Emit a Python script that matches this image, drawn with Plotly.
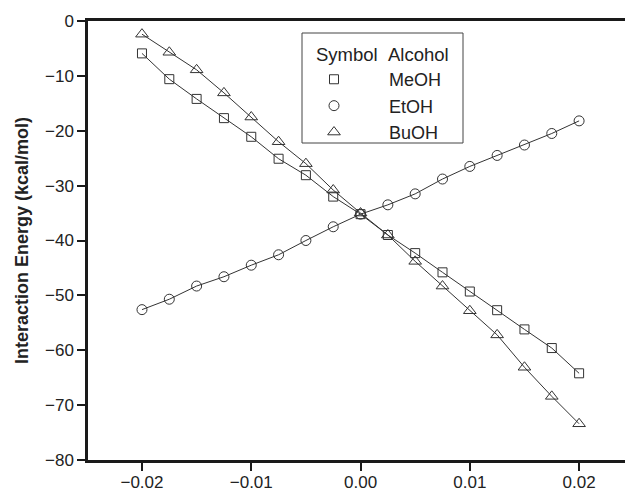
import plotly.graph_objects as go

x_vals = [-0.02, -0.0175, -0.015, -0.0125, -0.01, -0.0075, -0.005, -0.0025, 0.0,
          0.0025, 0.005, 0.0075, 0.01, 0.0125, 0.015, 0.0175, 0.02]
meoh = [-5.9, -10.6, -14.2, -17.7, -21.1, -25.1, -28.1, -32.0, -35.2,
        -39.0, -42.3, -45.8, -49.3, -52.7, -56.2, -59.6, -64.2]
etoh = [-52.6, -50.7, -48.3, -46.6, -44.5, -42.6, -40.0, -37.5, -35.2,
        -33.5, -31.5, -28.8, -26.5, -24.5, -22.6, -20.5, -18.2]
buoh = [-2.4, -5.7, -8.9, -13.1, -17.5, -22.0, -26.0, -30.8, -35.0,
        -39.0, -43.8, -48.3, -52.8, -57.2, -63.1, -68.4, -73.4]

series = [("MeOH", meoh, "square-open", 9),
          ("EtOH", etoh, "circle-open", 10),
          ("BuOH", buoh, "triangle-up-open", 11)]

x_ticks = [-0.02, -0.01, 0.0, 0.01, 0.02]
x_ticktext = ["\u22120.02", "\u22120.01", "0.00", "0.01", "0.02"]
y_ticks = [0, -10, -20, -30, -40, -50, -60, -70, -80]
y_ticktext = ["0" if v == 0 else "\u2212" + str(abs(v)) for v in y_ticks]

fig = go.Figure()
for name, ys, sym, sz in series:
    fig.add_trace(go.Scatter(x=x_vals, y=ys, mode="lines", showlegend=False,
                             line=dict(color="#333333", width=1), hoverinfo="skip"))
for name, ys, sym, sz in series:
    fig.add_trace(go.Scatter(x=x_vals, y=ys, mode="markers",
                             name="\u00a0" * 7 + name,
                             marker=dict(symbol=sym, size=sz, color="#333333",
                                         line=dict(color="#333333", width=1))))

# plot area in pixels: left 88, top 21, width 537, height 439
def px_x(p):
    return (p - 88) / 537

def px_y(p):
    return 1 - (p - 21) / 439

font_family = "Liberation Sans, Arial, sans-serif"
fig.update_layout(
    width=625, height=502,
    margin=dict(l=88, r=0, t=21, b=42),
    paper_bgcolor="white", plot_bgcolor="white",
    font=dict(family=font_family, color="#222222", size=17),
    showlegend=True,
    legend=dict(
        x=px_x(314), y=px_y(37), xanchor="left", yanchor="top",
        borderwidth=0, bgcolor="rgba(0,0,0,0)",
        font=dict(size=18, color="#222222", family=font_family),
        title=dict(text="Symbol\u00a0\u00a0Alcohol", font=dict(size=18.5, color="#222222")),
        tracegroupgap=0,
    ),
    shapes=[dict(type="rect", xref="paper", yref="paper",
                 x0=px_x(302), x1=px_x(463), y0=px_y(143), y1=px_y(33),
                 line=dict(color="#444444", width=1), fillcolor="rgba(0,0,0,0)",
                 layer="above")],
    xaxis=dict(
        range=[-0.02494, 0.0242], showgrid=False, zeroline=False,
        showline=True, linecolor="#1a1a1a", linewidth=2.5, mirror=True,
        ticks="outside", ticklen=8, tickwidth=2, tickcolor="#1a1a1a",
        tickvals=x_ticks, ticktext=x_ticktext, ticklabelstandoff=-3,
        tickfont=dict(size=17, color="#222222"),
    ),
    yaxis=dict(
        range=[-80, 0], showgrid=False, zeroline=False,
        showline=True, linecolor="#1a1a1a", linewidth=2.5,
        ticks="outside", ticklen=8, tickwidth=2, tickcolor="#1a1a1a",
        tickvals=y_ticks, ticktext=y_ticktext,
        tickfont=dict(size=17, color="#222222"),
        title=dict(text="<b>Interaction Energy (kcal/mol)</b>",
                   font=dict(size=18, color="#222222"), standoff=12),
    ),
)

fig.write_html("out.html")
